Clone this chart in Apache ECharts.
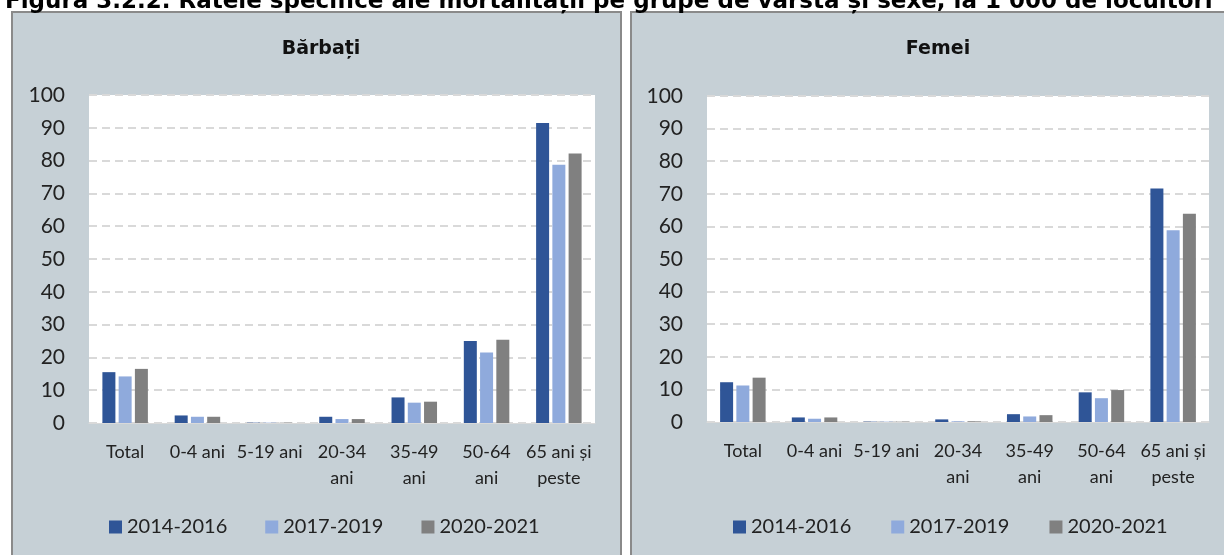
<!DOCTYPE html>
<html>
<head>
<meta charset="utf-8">
<script src="https://cdn.jsdelivr.net/npm/echarts@6/dist/echarts.min.js"></script>
<style>
  html, body { margin: 0; padding: 0; background: #fff; }
  #chart { width: 1224px; height: 555px; }
</style>
</head>
<body>
<div id="chart"></div>
<script>
// grupe de varsta
var categories = ['Total', '0-4 ani', '5-19 ani', '20-34\nani', '35-49\nani', '50-64\nani', '65 ani și\npeste']
var periods = ['2014-2016', '2017-2019', '2020-2021']
var yTicks = [0, 10, 20, 30, 40, 50, 60, 70, 80, 90, 100]

// Barbati, la 1 000 de locuitori
var barbati2014 = [15.5, 2.3, 0.1, 1.9, 7.8, 25.0, 91.5]
var barbati2017 = [14.2, 1.9, 0.1, 1.2, 6.2, 21.5, 78.7]
var barbati2020 = [16.5, 1.9, 0.1, 1.2, 6.5, 25.4, 82.2]

// Femei
var femei2014 = [12.2, 1.4, 0.1, 0.8, 2.4, 9.1, 71.6]
var femei2017 = [11.2, 1.0, 0.1, 0.2, 1.7, 7.3, 58.8]
var femei2020 = [13.6, 1.4, 0.1, 0.2, 2.1, 9.8, 63.9]

var colors = ['#2F5597', '#8FAADC', '#808080']
var font = 'Lato, "Liberation Sans", sans-serif'
var boldFont = '"DejaVu Sans", sans-serif'

var myChart = echarts.init(document.getElementById('chart'))

function xAxis(i) {
  return {
    type: 'category', gridIndex: i, data: categories,
    axisLine: { show: true, lineStyle: { color: '#D9D9D9' } },
    axisTick: { show: false },
    axisLabel: { color: '#222', fontSize: 18, fontFamily: font, lineHeight: 26, margin: 16, interval: 0 }
  }
}
function yAxis(i) {
  return {
    type: 'value', gridIndex: i, min: yTicks[0], max: yTicks[yTicks.length - 1], interval: 10,
    axisLine: { show: false }, axisTick: { show: false },
    axisLabel: { color: '#222', fontSize: 21, fontFamily: font, margin: 24 },
    splitLine: { lineStyle: { color: '#D9D9D9', type: [8, 5], width: 2 } }
  }
}
function bars(name, data, i, c) {
  return {
    name: name, type: 'bar', xAxisIndex: i, yAxisIndex: i, data: data,
    barWidth: 13, barGap: '25%', itemStyle: { color: colors[c] }
  }
}
function legend(left, i, gap) {
  return {
    left: left, top: 512, itemWidth: 13, itemHeight: 13, itemGap: gap,
    icon: 'rect', data: periods.map(function (p) { return { name: p } }),
    textStyle: { color: '#222', fontSize: 20, fontFamily: font },
    selectedMode: false
  }
}

myChart.setOption({
  animation: false,
  color: colors,
  graphic: [
    { type: 'rect', shape: { x: 12, y: 12, width: 609, height: 560 }, z: -10,
      style: { fill: '#C6D0D6', stroke: '#8A8A8A', lineWidth: 2 } },
    { type: 'rect', shape: { x: 631, y: 12, width: 600, height: 560 }, z: -10,
      style: { fill: '#C6D0D6', stroke: '#8A8A8A', lineWidth: 2 } }
  ],
  title: [
    { text: 'Figura 3.2.2. Ratele specifice ale mortalității pe grupe de vârstă și sexe, la 1 000 de locuitori',
      left: 0, top: -14, textStyle: { fontSize: 23, fontWeight: 'bold', color: '#000', fontFamily: boldFont } },
    { text: 'Bărbați', left: 316, top: 35, textAlign: 'center',
      textStyle: { fontSize: 19, fontWeight: 'bold', color: '#111', fontFamily: boldFont } },
    { text: 'Femei', left: 933, top: 35, textAlign: 'center',
      textStyle: { fontSize: 19, fontWeight: 'bold', color: '#111', fontFamily: boldFont } }
  ],
  legend: [legend(104, 0, 38), legend(728, 1, 40)],
  grid: [
    { left: 89, right: 629, top: 95, bottom: 132, show: true, backgroundColor: '#fff', borderWidth: 0 },
    { left: 707, right: 15, top: 96, bottom: 133, show: true, backgroundColor: '#fff', borderWidth: 0 }
  ],
  xAxis: [xAxis(0), xAxis(1)],
  yAxis: [yAxis(0), yAxis(1)],
  series: [
    bars(periods[0], barbati2014, 0, 0),
    bars(periods[1], barbati2017, 0, 1),
    bars(periods[2], barbati2020, 0, 2),
    bars(periods[0], femei2014, 1, 0),
    bars(periods[1], femei2017, 1, 1),
    bars(periods[2], femei2020, 1, 2)
  ]
})
</script>
</body>
</html>
